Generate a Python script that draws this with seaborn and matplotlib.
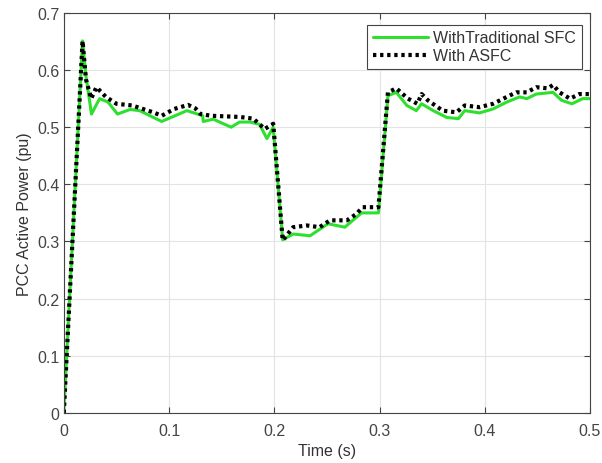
import numpy as np
import pandas as pd
import seaborn as sns
import matplotlib
matplotlib.use("Agg")
import matplotlib.pyplot as plt

# Traditional SFC (green)
t_sfc = [0, 0.0178, 0.021, 0.0263, 0.034, 0.042, 0.051, 0.063, 0.072, 0.093,
         0.117, 0.132, 0.1325, 0.142, 0.159, 0.167, 0.177, 0.186, 0.193, 0.199,
         0.208, 0.218, 0.234, 0.251, 0.267, 0.283, 0.299, 0.308, 0.316, 0.326,
         0.335, 0.340, 0.351, 0.364, 0.375, 0.381, 0.395, 0.408, 0.421, 0.433,
         0.440, 0.449, 0.465, 0.473, 0.483, 0.493, 0.5]
p_sfc = [0, 0.651, 0.59, 0.523, 0.55, 0.544, 0.523, 0.531, 0.529, 0.51,
         0.529, 0.52, 0.51, 0.514, 0.50, 0.509, 0.509, 0.505, 0.48, 0.50,
         0.303, 0.313, 0.31, 0.331, 0.325, 0.35, 0.35, 0.555, 0.561, 0.538,
         0.529, 0.541, 0.529, 0.517, 0.515, 0.529, 0.525, 0.532, 0.544, 0.553,
         0.55, 0.558, 0.561, 0.547, 0.541, 0.55, 0.55]

# ASFC (black dotted)
t_asfc = [0, 0.0178, 0.021, 0.026, 0.031, 0.04, 0.05, 0.065, 0.085, 0.093,
          0.105, 0.118, 0.125, 0.13, 0.14, 0.167, 0.18, 0.191, 0.199,
          0.208, 0.218, 0.231, 0.243, 0.253, 0.269, 0.278, 0.284, 0.299,
          0.308, 0.316, 0.327, 0.336, 0.340, 0.346, 0.36, 0.373, 0.381, 0.395,
          0.408, 0.421, 0.43, 0.44, 0.449, 0.46, 0.465, 0.471, 0.481, 0.49, 0.5]
p_asfc = [0, 0.651, 0.584, 0.55, 0.57, 0.553, 0.541, 0.538, 0.526, 0.52,
          0.532, 0.539, 0.533, 0.523, 0.52, 0.518, 0.515, 0.497, 0.506,
          0.302, 0.325, 0.328, 0.325, 0.337, 0.337, 0.348, 0.36, 0.36,
          0.561, 0.568, 0.55, 0.541, 0.558, 0.547, 0.529, 0.526, 0.538, 0.535,
          0.541, 0.553, 0.561, 0.561, 0.57, 0.568, 0.574, 0.561, 0.55, 0.558, 0.558]

sfc = pd.DataFrame({"t": t_sfc, "p": p_sfc})
asfc = pd.DataFrame({"t": t_asfc, "p": p_asfc})

sns.set_style("whitegrid", {"grid.color": "#e3e3e3", "axes.edgecolor": "#444444",
                            "xtick.direction": "in", "ytick.direction": "in",
                            "xtick.bottom": True, "ytick.left": True,
                            "xtick.top": True, "ytick.right": True,
                            "text.color": "#333333", "axes.labelcolor": "#333333",
                            "xtick.color": "#444444", "ytick.color": "#444444"})
plt.rcParams["font.family"] = ["Liberation Sans", "DejaVu Sans"]

fig = plt.figure(figsize=(6.02, 4.64), dpi=100)
ax = fig.add_axes([0.106, 0.108, 0.874, 0.862])

sns.lineplot(data=sfc, x="t", y="p", sort=False, ax=ax, color="#2ee02e",
             linewidth=2.2, label="WithTraditional SFC")
sns.lineplot(data=asfc, x="t", y="p", sort=False, ax=ax, color="black",
             linewidth=3, linestyle=(0, (0.8, 0.9)), label="With ASFC")

ax.set_xlim(0, 0.5)
ax.set_ylim(0, 0.7)
ax.set_xticks([0, 0.1, 0.2, 0.3, 0.4, 0.5])
ax.set_xticklabels(["0", "0.1", "0.2", "0.3", "0.4", "0.5"])
ax.set_yticks(np.arange(0, 0.71, 0.1))
ax.set_yticklabels(["0", "0.1", "0.2", "0.3", "0.4", "0.5", "0.6", "0.7"])
ax.tick_params(labelsize=11.5, length=4, pad=3)
ax.tick_params(axis="x", pad=7)
ax.set_xlabel("Time (s)", fontsize=11.5, labelpad=4)
ax.set_ylabel("PCC Active Power (pu)", fontsize=11.5, labelpad=4)
for s in ax.spines.values():
    s.set_linewidth(0.8)

leg = ax.legend(loc="upper right", fontsize=11.5, frameon=True, fancybox=False,
                edgecolor="#444444", framealpha=1, handlelength=3.5,
                handletextpad=0.3, borderpad=0.35, labelspacing=0.2,
                borderaxespad=0.35, bbox_to_anchor=(0.995, 0.985))
leg.get_frame().set_linewidth(0.8)

fig.savefig("out.png", dpi=100)
